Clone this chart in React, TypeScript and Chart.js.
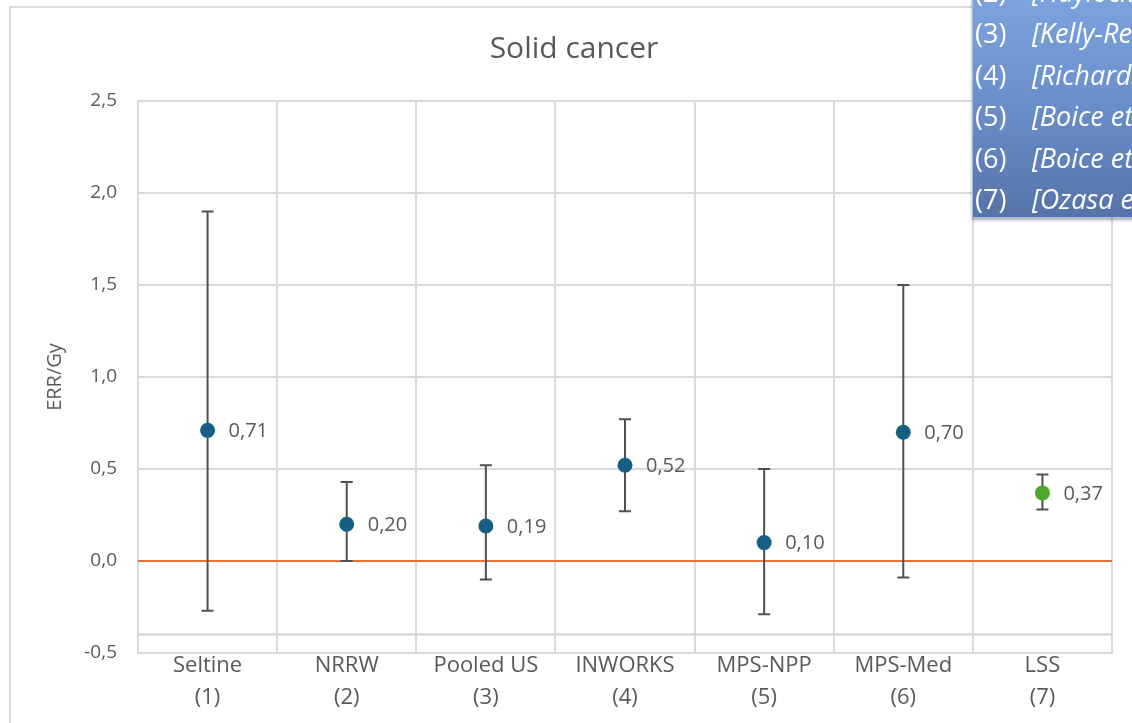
import React, { useEffect, useRef } from "react";
import { Chart, registerables } from "chart.js";

Chart.register(...registerables);

// ---- data ----
const categories: string[][] = [
  ["Seltine", "(1)"],
  ["NRRW", "(2)"],
  ["Pooled US", "(3)"],
  ["INWORKS", "(4)"],
  ["MPS-NPP", "(5)"],
  ["MPS-Med", "(6)"],
  ["LSS", "(7)"],
];
const estimates = [0.71, 0.2, 0.19, 0.52, 0.1, 0.7, 0.37];
const lowerCI = [-0.27, 0.0, -0.1, 0.27, -0.29, -0.09, 0.28];
const upperCI = [1.9, 0.43, 0.52, 0.77, 0.5, 1.5, 0.47];
const valueLabels = ["0,71", "0,20", "0,19", "0,52", "0,10", "0,70", "0,37"];
const pointColors = ["#156082", "#156082", "#156082", "#156082", "#156082", "#156082", "#4EA72E"];
const referenceValue = 0;
const categoryAxisCross = -0.4;
const yMin = -0.5;
const yMax = 2.5;
const yStep = 0.5;
const chartTitle = "Solid cancer";
const yAxisTitle = "ERR/Gy";
const legendNumbers = ["(2)", "(3)", "(4)", "(5)", "(6)", "(7)"];
const legendRefs = [
  "[Haylock et al. 2018]",
  "[Kelly-Reif et al. 2023]",
  "[Richardson et al. 2023]",
  "[Boice et al. 2022a]",
  "[Boice et al. 2022b]",
  "[Ozasa et al. 2012]",
];

const FONT = "'Open Sans', 'Noto Sans', sans-serif";
const TEXT = "#595959";
const GRID = "#d9d9d9";

const overlayPlugin = {
  id: "overlayMarks",
  beforeDatasetsDraw(chart: any) {
    const { ctx, chartArea, scales } = chart;
    const x = scales.x;
    const y = scales.y;
    ctx.save();
    // category axis line
    const yc = y.getPixelForValue(categoryAxisCross);
    ctx.strokeStyle = "#cfcfcf";
    ctx.lineWidth = 2;
    ctx.beginPath();
    ctx.moveTo(chartArea.left, yc);
    ctx.lineTo(chartArea.right, yc);
    ctx.stroke();
    // reference line
    const y0 = y.getPixelForValue(referenceValue);
    ctx.strokeStyle = "#E97132";
    ctx.lineWidth = 2;
    ctx.beginPath();
    ctx.moveTo(chartArea.left, y0);
    ctx.lineTo(chartArea.right, y0);
    ctx.stroke();
    // error bars
    ctx.strokeStyle = "#505050";
    ctx.lineWidth = 2;
    for (let i = 0; i < estimates.length; i++) {
      const px = x.getPixelForValue(i);
      const lo = y.getPixelForValue(lowerCI[i]);
      const hi = y.getPixelForValue(upperCI[i]);
      ctx.beginPath();
      ctx.moveTo(px, lo);
      ctx.lineTo(px, hi);
      ctx.moveTo(px - 6, lo);
      ctx.lineTo(px + 6, lo);
      ctx.moveTo(px - 6, hi);
      ctx.lineTo(px + 6, hi);
      ctx.stroke();
    }
    ctx.restore();
  },
  afterDatasetsDraw(chart: any) {
    const { ctx, scales } = chart;
    ctx.save();
    ctx.fillStyle = TEXT;
    ctx.font = `20px ${FONT}`;
    ctx.textAlign = "left";
    ctx.textBaseline = "middle";
    for (let i = 0; i < estimates.length; i++) {
      const px = scales.x.getPixelForValue(i);
      const py = scales.y.getPixelForValue(estimates[i]);
      ctx.fillText(valueLabels[i], px + 21, py + 1);
    }
    ctx.restore();
  },
};

export default function App() {
  const canvasRef = useRef<HTMLCanvasElement | null>(null);

  useEffect(() => {
    const canvas = canvasRef.current;
    if (!canvas) return;
    const chart = new Chart(canvas, {
      type: "line",
      data: {
        labels: categories,
        datasets: [
          {
            data: estimates,
            showLine: false,
            pointRadius: 7.5,
            pointHoverRadius: 7.5,
            pointBorderWidth: 0,
            pointBackgroundColor: pointColors,
            pointBorderColor: pointColors,
          },
        ],
      },
      options: {
        responsive: false,
        animation: false,
        devicePixelRatio: 1,
        layout: { padding: { top: 101, right: 20, left: 0, bottom: 0 } },
        plugins: {
          legend: { display: false },
          tooltip: { enabled: false },
          title: { display: false },
        },
        scales: {
          x: {
            type: "category",
            offset: true,
            grid: { offset: true, color: GRID, lineWidth: 2, drawTicks: false },
            border: { display: true, color: GRID, width: 2 },
            ticks: {
              color: TEXT,
              padding: -3,
              maxRotation: 0,
              autoSkip: false,
              font: { family: FONT, size: 22, lineHeight: 1.45 },
            },
            afterFit(scale: any) {
              scale.height = 70;
            },
          },
          y: {
            type: "linear",
            min: yMin,
            max: yMax,
            grid: { color: GRID, lineWidth: 2, drawTicks: false },
            border: { display: true, color: GRID, width: 2 },
            ticks: {
              stepSize: yStep,
              color: TEXT,
              padding: 21,
              font: { family: FONT, size: 19 },
              callback: (v: any) => Number(v).toFixed(1).replace(".", ","),
            },
            title: {
              display: true,
              text: yAxisTitle,
              color: TEXT,
              font: { family: FONT, size: 20, lineHeight: 1.2 },
              padding: { top: 43, bottom: 0 },
            },
            afterFit(scale: any) {
              scale.width = 138;
            },
          },
        },
      },
      plugins: [overlayPlugin],
    } as any);
    return () => chart.destroy();
  }, []);

  return (
    <div
      style={{
        position: "fixed",
        left: 0,
        top: 0,
        width: 1132,
        height: 723,
        overflow: "hidden",
        background: "#ffffff",
      }}
    >
      <div
        style={{
          position: "absolute",
          left: 9,
          top: 6,
          width: 2000,
          height: 2000,
          border: "2px solid #d9d9d9",
        }}
      />
      <canvas
        ref={canvasRef}
        width={1132}
        height={723}
        style={{ position: "absolute", left: 0, top: 0, width: 1132, height: 723 }}
      />
      <div
        style={{
          position: "absolute",
          left: 0,
          width: 1148,
          top: 26,
          textAlign: "center",
          fontFamily: FONT,
          fontSize: 30,
          lineHeight: "42px",
          color: TEXT,
          whiteSpace: "nowrap",
        }}
      >
        {chartTitle}
      </div>
      <div
        style={{
          position: "absolute",
          left: 972,
          top: -50,
          width: 400,
          height: 266,
          overflow: "hidden",
          background: "linear-gradient(180deg, #86ade6 0%, #6b90cd 55%, #5674a9 100%)",
          border: "1px solid #a9bde0",
          boxShadow: "0 2px 3px rgba(0,0,0,0.35)",
          fontFamily: FONT,
          color: "#ffffff",
        }}
      >
        {legendNumbers.map((n, i) => (
          <div
            key={n}
            style={{
              position: "absolute",
              left: 0,
              top: 20 + i * 41.4,
              height: 41.4,
              lineHeight: "41.4px",
              fontSize: 27,
              whiteSpace: "nowrap",
            }}
          >
            <span style={{ position: "absolute", left: 2 }}>{n}</span>
            <span style={{ position: "absolute", left: 59, fontStyle: "italic" }}>{legendRefs[i]}</span>
          </div>
        ))}
      </div>
    </div>
  );
}
